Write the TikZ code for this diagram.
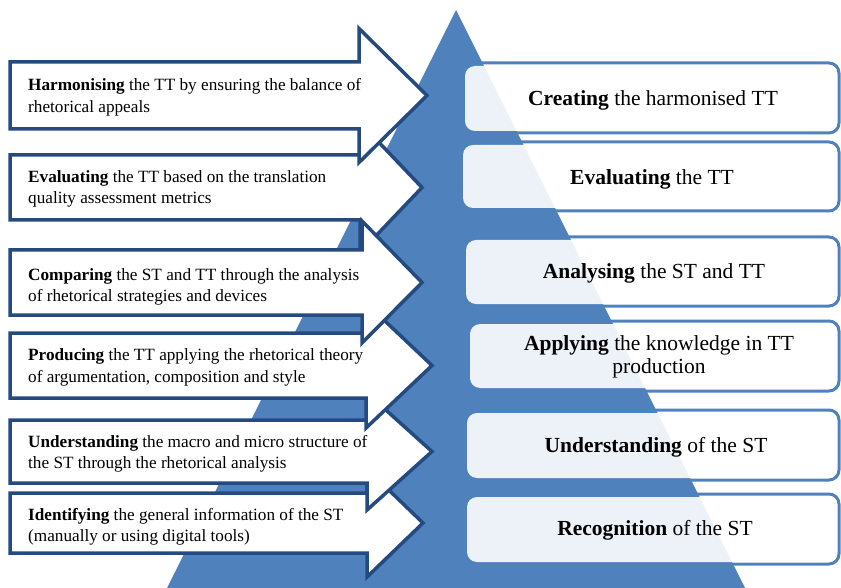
\documentclass[tikz,border=0pt]{standalone}
\usepackage{fontspec}
\setmainfont{Liberation Serif}
\definecolor{triblue}{HTML}{4F81BD}
\definecolor{arrowblue}{HTML}{254A80}
\begin{document}
\begin{tikzpicture}[x=1pt,y=-1pt,
  arrowshape/.style={draw=arrowblue, line width=3.5pt, fill=white, line join=miter},
  boxline/.style={draw=triblue, line width=3pt, rounded corners=10pt},
  boxfill/.style={fill=white, fill opacity=0.9, rounded corners=10pt},
  lefttext/.style={anchor=west, align=left, font=\fontsize{17.2}{21.5}\selectfont, inner sep=0pt},
  righttext/.style={align=center, font=\fontsize{21.5}{23.5}\selectfont, inner sep=0pt}]
\useasboundingbox (0,0) rectangle (841,588);
% pyramid
\fill[triblue] (456,10) -- (745,588) -- (167,588) -- cycle;
% right boxes
\draw[boxline] (472,63) rectangle (839,133);
\fill[boxfill] (465,66) rectangle (836,131);
\draw[boxline] (472,142) rectangle (839,211);
\fill[boxfill] (463,145) rectangle (836,208);
\draw[boxline] (472,237) rectangle (839,306);
\fill[boxfill] (466,240) rectangle (836,304);
\draw[boxline] (476,321) rectangle (839,391);
\fill[boxfill] (470,324) rectangle (836,388);
\draw[boxline] (474,410) rectangle (839,480);
\fill[boxfill] (467,413) rectangle (836,478);
\draw[boxline] (474,494) rectangle (839,564);
\fill[boxfill] (467,497) rectangle (836,562);
\node[righttext] (r1) at (653,100) {\textbf{Creating} the harmonised TT};
\node[righttext] (r2) at (652,179) {\textbf{Evaluating} the TT};
\node[righttext] (r3) at (654,273) {\textbf{Analysing} the ST and TT};
\node[righttext] (r4) at (659,357) {\textbf{Applying} the knowledge in TT\\production};
\node[righttext] (r5) at (656,447) {\textbf{Understanding} of the ST};
\node[righttext] (r6) at (655,530) {\textbf{Recognition} of the ST};
% arrows (drawing order gives the overlaps)
\draw[arrowshape] (10,493) -- (367,493) -- (367,469) -- (423,523) -- (367,577) -- (367,553) -- (10,553) -- cycle;
\draw[arrowshape] (10,420) -- (367,420) -- (367,393) -- (432,451.5) -- (367,510) -- (367,483) -- (10,483) -- cycle;
\draw[arrowshape] (10,333) -- (366,333) -- (366,303) -- (432,365.5) -- (366,428) -- (366,398) -- (10,398) -- cycle;
\draw[arrowshape] (10,155) -- (360,155) -- (360,122.5) -- (422,187.5) -- (360,252.5) -- (360,220) -- (10,220) -- cycle;
\draw[arrowshape] (10,250) -- (362,250) -- (362,221) -- (422,282.5) -- (362,343) -- (362,315) -- (10,315) -- cycle;
\draw[arrowshape] (10,62) -- (359,62) -- (359,28.5) -- (427,95.5) -- (359,162.5) -- (359,129) -- (10,129) -- cycle;
\node[lefttext] (l1) at (28,97.5) {\textbf{Harmonising} the TT by ensuring the balance of\\rhetorical appeals};
\node[lefttext] (l2) at (28,189) {\textbf{Evaluating} the TT based on the translation\\quality assessment metrics};
\node[lefttext] (l3) at (28,287) {\textbf{Comparing} the ST and TT through the analysis\\of rhetorical strategies and devices};
\node[lefttext] (l4) at (28,367.5) {\textbf{Producing} the TT applying the rhetorical theory\\of argumentation, composition and style};
\node[lefttext] (l5) at (28,454) {\textbf{Understanding} the macro and micro structure of\\the ST through the rhetorical analysis};
\node[lefttext] (l6) at (28,527) {\textbf{Identifying} the general information of the ST\\(manually or using digital tools)};
\end{tikzpicture}
\end{document}
